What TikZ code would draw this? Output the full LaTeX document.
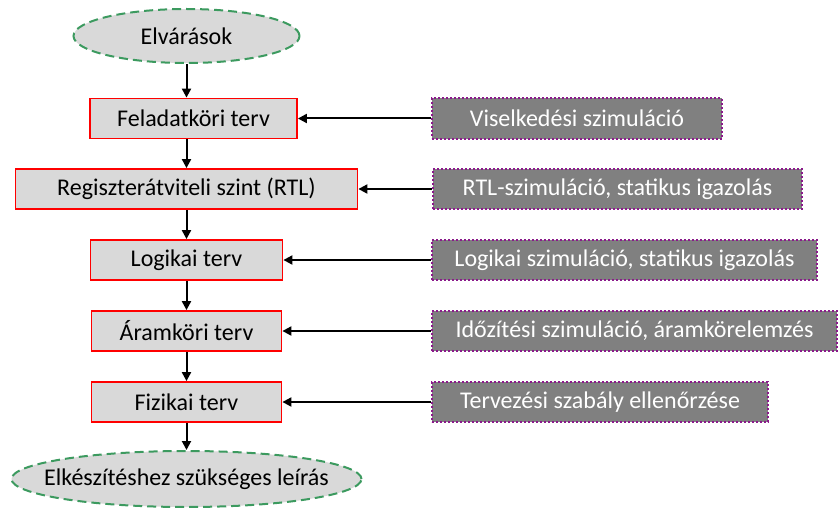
\documentclass[tikz,border=0pt]{standalone}
\usepackage{fontspec}
\setmainfont{Carlito}
\usetikzlibrary{shapes.geometric}
\usetikzlibrary{arrows.meta}
\definecolor{boxgray}{HTML}{D9D9D9}
\definecolor{simgray}{HTML}{808080}
\definecolor{dashgreen}{HTML}{3C9A5F}
\definecolor{dotpurple}{HTML}{8B1A8B}
\begin{document}
\begin{tikzpicture}[x=1pt,y=-1pt,
            font=\fontsize{24}{28}\selectfont,
            arr/.style = {-{Triangle[length=9pt,width=9pt]},line width=2pt},
            design/.style = {draw=red,line width=1.8pt,fill=boxgray,
                inner sep=0pt,minimum height=40pt},
            simbox/.style = {draw=dotpurple,dotted,line width=2pt,fill=simgray,
                text=white,inner sep=0pt,minimum height=40pt},
            endpoint/.style = {ellipse,draw=dashgreen,dash pattern=on 9pt off 5pt,
                line width=2pt,fill=boxgray,inner xsep=-30pt,inner ysep=0pt}]
            \useasboundingbox (0,0) rectangle (840,508);
            \node[endpoint,minimum width=226pt,minimum height=54pt] (start) at (186.5,36) {Elvárások};
            \node[design,minimum width=207pt] (l1) at (193.5,118.5) {Feladatköri terv};
            \node[design,minimum width=342pt] (l2) at (186.5,189) {Regiszterátviteli szint (RTL)};
            \node[design,minimum width=192pt] (l3) at (186.5,260) {Logikai terv};
            \node[design,minimum width=190pt] (l4) at (186.5,331) {Áramköri terv};
            \node[design,minimum width=190pt] (l5) at (186.5,402) {Fizikai terv};
            \node[endpoint,minimum width=350pt,minimum height=56pt] (stop) at (186.5,479) {Elkészítéshez szükséges leírás};
            % szimulaciok
            \node[simbox,minimum width=290pt] (r1) at (577,118.5) {Viselkedési szimuláció};
            \node[simbox,minimum width=369pt] (r2) at (617.5,189) {RTL-szimuláció, statikus igazolás};
            \node[simbox,minimum width=385pt] (r3) at (624.5,260) {Logikai szimuláció, statikus igazolás};
            \node[simbox,minimum width=405pt] (r4) at (634.5,331) {Időzítési szimuláció, áramkörelemzés};
            \node[simbox,minimum width=336pt] (r5) at (600,402) {Tervezési szabály ellenőrzése};
            \draw[arr] (start.south) -- (start.south |- l1.north);
            \draw[arr] (start.south |- l1.south) -- (l2.north);
            \draw[arr] (l2.south) -- (l3.north);
            \draw[arr] (l3.south) -- (l4.north);
            \draw[arr] (l4.south) -- (l5.north);
            \draw[arr] (l5.south) -- (stop.north);
            \foreach \i in {1,...,5}
                \draw[arr] (r\i.west) -- (l\i.east);
        \end{tikzpicture}
\end{document}
